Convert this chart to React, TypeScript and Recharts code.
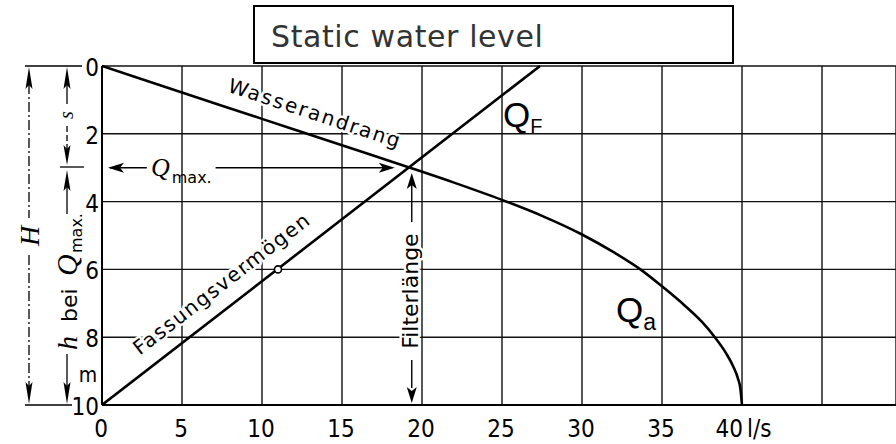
import { LineChart, Line, XAxis, YAxis, CartesianGrid, ReferenceLine, ReferenceDot } from 'recharts';

// Discharge Q in l/s, depth below static level in m
const xTicks = [0, 5, 10, 15, 20, 25, 30, 35, 40, 45];
const xLabels = ['0', '5', '10', '15', '20', '25', '30', '35', '40', ''];
const yTicks = [0, 2, 4, 6, 8, 10];

// Wasserandrang (Q_a) curve
const inflowQ = [0, 5, 10, 15, 19.25, 22, 25, 27.5, 30, 32, 33.65, 35, 36.5, 37.5, 38.3, 39, 39.46, 39.75, 39.9, 40];
const inflowH = [0, 0.78, 1.56, 2.34, 3.0, 3.44, 3.95, 4.42, 4.97, 5.5, 6.0, 6.5, 7.1, 7.55, 8.0, 8.47, 8.87, 9.22, 9.52, 10];

// Fassungsvermoegen (Q_F) straight line
const capacityQ = [0, 27.375];
const capacityH = [10, 0];

// operating point and marked point on Q_F
const qMax = 19.25;
const hQmax = 3.0;
const markQ = 11.0;
const markH = 6.0;

const inflowData = inflowQ.map((q, i) => ({ q, h: inflowH[i] }));
const capacityData = capacityQ.map((q, i) => ({ q, h: capacityH[i] }));

const tickFont = "'DejaVu Sans Condensed', 'DejaVu Sans', sans-serif";
const labelFont = "'DejaVu Sans', sans-serif";

const halo = { stroke: '#fff', strokeWidth: 5, paintOrder: 'stroke' as const, strokeLinejoin: 'round' as const };

const XTick = (p: any) => {
    const i = xTicks.indexOf(p.payload.value);
    const label = xLabels[i];
    if (!label) return null;
    if (label === '40') {
        return (
            <g fontFamily={tickFont} fontSize={24} fill="#000">
                <text x={p.x + 1} y={437} textAnchor="end">40</text>
                <text x={p.x + 5} y={437} textAnchor="start">l/s</text>
            </g>
        );
    }
    return <text x={p.x - 1} y={437} textAnchor="middle" fontFamily={tickFont} fontSize={24} fill="#000">{label}</text>;
};

const YTick = (p: any) => (
    <text x={99} y={p.y + 10} textAnchor="end" fontFamily={tickFont} fontSize={24} fill="#000">{p.payload.value}</text>
);

const arrowHead = (angle: number) => (p: any) => (
    <path d="M0,0 L-16,-5 L-12,0 L-16,5 Z" transform={`translate(${p.cx},${p.cy}) rotate(${angle})`} fill="#000" />
);

const textAt = (content: any, angle: number, extra: any = {}) => (p: any) => (
    <text
        x={p.cx}
        y={p.cy}
        transform={angle ? `rotate(${angle} ${p.cx} ${p.cy})` : undefined}
        fill="#000"
        {...extra}
    >
        {content}
    </text>
);

export default function App() {
    return (
        <div style={{ position: 'absolute', left: 0, top: 0, width: 896, height: 444, background: '#fff' }}>
            <LineChart width={896} height={444} margin={{ top: 66, right: 0, bottom: 0, left: 0 }}>
                <CartesianGrid stroke="#111" strokeWidth={1.4} />
                <XAxis
                    type="number"
                    dataKey="q"
                    domain={[0, 49.625]}
                    ticks={xTicks}
                    allowDataOverflow
                    height={39}
                    tickLine={false}
                    axisLine={{ stroke: '#000', strokeWidth: 2 }}
                    tick={XTick}
                    interval={0}
                />
                <YAxis
                    type="number"
                    dataKey="h"
                    domain={[0, 10]}
                    reversed
                    ticks={yTicks}
                    width={102}
                    tickLine={false}
                    axisLine={{ stroke: '#000', strokeWidth: 2 }}
                    tick={YTick}
                    interval={0}
                />

                {/* Q_max arrow */}
                <ReferenceLine segment={[{ x: 0.5, y: hQmax }, { x: 2.8, y: hQmax }]} stroke="#000" strokeWidth={1.4} />
                <ReferenceLine segment={[{ x: 7.1, y: hQmax }, { x: 17.8, y: hQmax }]} stroke="#000" strokeWidth={1.4} />
                <ReferenceDot x={0.375} y={hQmax} shape={arrowHead(180)} />
                <ReferenceDot x={18.3} y={hQmax} shape={arrowHead(0)} />

                {/* Filterlaenge arrows */}
                <ReferenceLine segment={[{ x: 19.36, y: 3.5 }, { x: 19.36, y: 4.6 }]} stroke="#000" strokeWidth={1.4} />
                <ReferenceLine segment={[{ x: 19.36, y: 8.67 }, { x: 19.36, y: 9.5 }]} stroke="#000" strokeWidth={1.4} />
                <ReferenceDot x={19.36} y={3.16} shape={arrowHead(-90)} />
                <ReferenceDot x={19.36} y={9.94} shape={arrowHead(90)} />

                <Line data={inflowData} dataKey="h" type="monotone" stroke="#000" strokeWidth={2.6} dot={false} isAnimationActive={false} />
                <Line data={capacityData} dataKey="h" type="linear" stroke="#000" strokeWidth={2.6} dot={false} isAnimationActive={false} />

                <ReferenceDot x={markQ} y={markH} r={3.5} fill="#fff" stroke="#000" strokeWidth={1.6} />

                {/* curve labels */}
                <ReferenceDot x={13.19} y={1.59} shape={textAt('Wasserandrang', 18.3, { ...halo, textAnchor: 'middle', fontFamily: labelFont, fontSize: 20, letterSpacing: 2 })} />
                <ReferenceDot x={7.75} y={6.58} shape={textAt('Fassungsvermögen', -37.7, { ...halo, textAnchor: 'middle', fontFamily: labelFont, fontSize: 20, letterSpacing: 1.6 })} />
                <ReferenceDot x={19.75} y={6.64} shape={textAt('Filterlänge', -90, { ...halo, textAnchor: 'middle', fontFamily: labelFont, fontSize: 22 })} />
                <ReferenceDot
                    x={3.06}
                    y={3.245}
                    shape={textAt(
                        <>
                            <tspan fontFamily="'Liberation Serif', serif" fontStyle="italic" fontSize={26}>Q</tspan>
                            <tspan fontFamily={labelFont} fontSize={16} dy={7} dx={2}>max.</tspan>
                        </>,
                        0
                    )}
                />
                <ReferenceDot
                    x={25.06}
                    y={1.8}
                    shape={textAt(
                        <>
                            <tspan fontSize={35}>Q</tspan>
                            <tspan fontSize={20} dy={6}>F</tspan>
                        </>,
                        0,
                        { fontFamily: "'Liberation Sans', sans-serif" }
                    )}
                />
                <ReferenceDot
                    x={32.125}
                    y={7.55}
                    shape={textAt(
                        <>
                            <tspan fontSize={35}>Q</tspan>
                            <tspan fontSize={23} dy={8}>a</tspan>
                        </>,
                        0,
                        { fontFamily: "'Liberation Sans', sans-serif" }
                    )}
                />
            </LineChart>

            {/* dimension lines on the left and the title box */}
            <svg width={896} height={444} style={{ position: 'absolute', left: 0, top: 0, pointerEvents: 'none' }}>
                <g stroke="#000" strokeWidth={1.3}>
                    <line x1={25} y1={66} x2={82} y2={66} />
                    <line x1={25} y1={405} x2={72} y2={405} />
                    <line x1={60} y1={167} x2={84} y2={167} />
                    <line x1={29} y1={84} x2={29} y2={218} strokeDasharray="10 3 2 3" />
                    <line x1={29} y1={255} x2={29} y2={390} strokeDasharray="10 3 2 3" />
                    <line x1={67} y1={84} x2={67} y2={104} />
                    <line x1={67} y1={126} x2={67} y2={150} strokeDasharray="6 3" />
                    <line x1={67} y1={186} x2={67} y2={214} />
                    <line x1={67} y1={354} x2={67} y2={390} />
                </g>
                <g fill="#000">
                    <path d="M29,67 L25.5,89 L29,85 L32.5,89 Z" />
                    <path d="M29,404 L25.5,382 L29,386 L32.5,382 Z" />
                    <path d="M67,67 L63.5,89 L67,85 L70.5,89 Z" />
                    <path d="M67,165 L63.5,145 L67,149 L70.5,145 Z" />
                    <path d="M67,170 L63.5,191 L67,187 L70.5,191 Z" />
                    <path d="M67,404 L63.5,382 L67,386 L70.5,382 Z" />
                </g>
                <text transform="translate(29,236) rotate(-90)" textAnchor="middle" dy="0.35em" fontFamily="'Liberation Serif', serif" fontStyle="italic" fontSize={28}>H</text>
                <text transform="translate(67,115) rotate(-90)" textAnchor="middle" dy="0.3em" fontFamily="'Liberation Serif', serif" fontStyle="italic" fontSize={20}>s</text>
                <g transform="translate(77,0) rotate(-90)">
                    <text x={-350} y={0} fontFamily="'Liberation Serif', serif" fontStyle="italic" fontSize={28}>h</text>
                    <text x={-322} y={0} fontFamily={labelFont} fontSize={22}>bei</text>
                    <text x={-276} y={0} fontFamily="'Liberation Serif', serif" fontStyle="italic" fontSize={30}>Q</text>
                    <text x={-253} y={5} fontFamily={labelFont} fontSize={16}>max.</text>
                </g>
                <text x={88} y={382} textAnchor="middle" fontFamily={tickFont} fontSize={21}>m</text>

                <rect x={254} y={6} width={479} height={57} fill="#fff" stroke="#000" strokeWidth={2} />
                <text x={271} y={47} fontFamily={labelFont} fontSize={30} letterSpacing={0.6} fill="#333">Static water level</text>
            </svg>
        </div>
    );
}
